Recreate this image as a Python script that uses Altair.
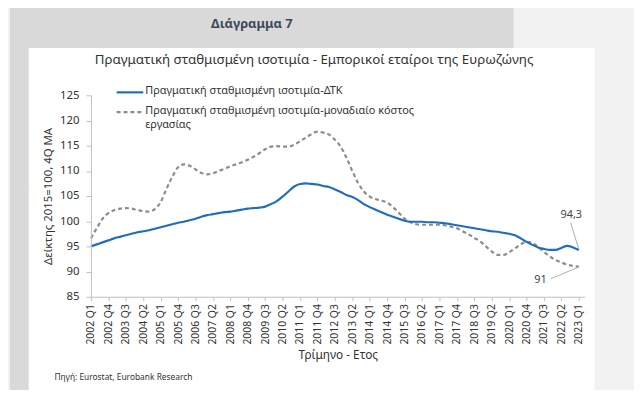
import altair as alt
import pandas as pd

# ---------------- data ----------------
tick_labels = [
    "2002 Q1", "2002 Q4", "2003 Q3", "2004 Q2", "2005 Q1", "2005 Q4", "2006 Q3",
    "2007 Q2", "2008 Q1", "2008 Q4", "2009 Q3", "2010 Q2", "2011 Q1", "2011 Q4",
    "2012 Q3", "2013 Q2", "2014 Q1", "2014 Q4", "2015 Q3", "2016 Q2", "2017 Q1",
    "2017 Q4", "2018 Q3", "2019 Q2", "2020 Q1", "2020 Q4", "2021 Q3", "2022 Q2",
    "2023 Q1",
]

# quarter index 0 = 2002 Q1 ... 84 = 2023 Q1
dtk = [
    95.0, 95.4, 95.8, 96.2, 96.6, 96.9, 97.2, 97.5, 97.8, 98.0,
    98.2, 98.5, 98.8, 99.1, 99.4, 99.7, 99.9, 100.2, 100.5, 100.9,
    101.2, 101.4, 101.6, 101.8, 101.9, 102.1, 102.3, 102.5, 102.6, 102.7,
    102.9, 103.4, 104.0, 104.9, 105.9, 106.9, 107.4, 107.5, 107.4, 107.3,
    107.0, 106.8, 106.3, 105.8, 105.2, 104.8, 104.2, 103.4, 102.8, 102.3,
    101.8, 101.3, 100.9, 100.5, 100.1, 99.9, 99.9, 99.9, 99.8, 99.8,
    99.7, 99.6, 99.4, 99.2, 99.0, 98.8, 98.6, 98.4, 98.2, 98.0,
    97.9, 97.7, 97.5, 97.2, 96.6, 95.9, 95.3, 94.8, 94.5, 94.3,
    94.3, 94.7, 95.1, 94.8, 94.3,
]

ulc = [
    96.6, 98.6, 100.5, 101.6, 102.2, 102.5, 102.6, 102.5, 102.2, 102.0,
    101.9, 102.4, 103.8, 106.4, 108.8, 110.7, 111.3, 111.0, 110.3, 109.6,
    109.3, 109.5, 110.0, 110.4, 110.9, 111.3, 111.7, 112.2, 112.8, 113.5,
    114.3, 114.8, 114.9, 114.8, 114.8, 115.2, 115.9, 116.6, 117.3, 117.8,
    117.6, 117.2, 116.2, 114.8, 112.6, 110.0, 107.6, 105.9, 104.9, 104.4,
    104.1, 103.7, 102.8, 101.7, 100.5, 99.8, 99.4, 99.3, 99.3, 99.3,
    99.3, 99.2, 98.9, 98.6, 98.0, 97.4, 96.7, 96.0, 95.0, 94.0,
    93.3, 93.3, 93.8, 94.6, 95.4, 95.9, 95.7, 94.9, 93.9, 93.0,
    92.3, 91.8, 91.4, 91.1, 91.0,
]

series_names = [
    "Πραγματική σταθμισμένη ισοτιμία-ΔΤΚ",
    "Πραγματική σταθμισμένη ισοτιμία-μοναδιαίο κόστος",
    "εργασίας",
]

end_labels = ["94,3", "91"]
end_label_x = [82.7, 77.4]
end_label_y = [101.3, 88.3]
leader_x = [82.6, 79.2]
leader_y = [99.7, 88.6]
leader_x2 = [84.0, 84.0]
leader_y2 = [94.4, 90.9]

# ---------------- tables ----------------
idx = list(range(len(dtk)))
df_dtk = pd.DataFrame({"i": idx, "v": dtk})
df_ulc = pd.DataFrame({"i": idx, "v": ulc})
df_lab = pd.DataFrame({"i": end_label_x, "v": end_label_y, "t": end_labels})
df_lead = pd.DataFrame({"i": leader_x, "v": leader_y, "i2": leader_x2, "v2": leader_y2})

FONT = "Noto Sans"
BLUE = "#1f6dbd"
GREY = "#8c8c8c"
TXT = "#333333"

label_js = "[" + ",".join("'%s'" % s for s in tick_labels) + "][round(datum.value/3)]"

x_enc = alt.X(
    "i:Q",
    scale=alt.Scale(domain=[0, 85], nice=False, zero=False),
    axis=alt.Axis(
        values=list(range(0, 85, 3)),
        labelExpr=label_js,
        labelAngle=-90,
        labelOverlap=False,
        labelFontSize=10.5,
        labelColor=TXT,
        labelPadding=3,
        labelFont=FONT,
        tickSize=4,
        tickColor="#bfbfbf",
        domainColor="#bfbfbf",
        grid=False,
        title="Τρίμηνο - Ετος",
        titleFont=FONT,
        titleFontSize=12,
        titleFontWeight="normal",
        titleColor=TXT,
        titlePadding=6,
        zindex=1,
    ),
)
y_enc = alt.Y(
    "v:Q",
    scale=alt.Scale(domain=[85, 125], nice=False, zero=False),
    axis=alt.Axis(
        values=list(range(85, 126, 5)),
        labelOverlap=False,
        labelFontSize=11.5,
        labelColor=TXT,
        labelFont=FONT,
        labelPadding=7,
        tickSize=5,
        tickColor="#bfbfbf",
        domainColor="#bfbfbf",
        grid=False,
        title="Δείκτης 2015=100, 4Q MA",
        titleFont=FONT,
        titleFontSize=11.5,
        titleFontWeight="normal",
        titleColor=TXT,
        titlePadding=6,
        zindex=1,
    ),
)

one = alt.Data(values=[{"k": 1}])

grey_panel = alt.Chart(one).mark_rect(color="#d9d9d9").encode(
    x=alt.value(-82), x2=alt.value(428), y=alt.value(-94), y2=alt.value(304)
)
white_panel = alt.Chart(one).mark_rect(color="#ffffff").encode(
    x=alt.value(-63), x2=alt.value(510), y=alt.value(-48), y2=alt.value(300)
)
header = alt.Chart(one).mark_text(
    text="Διάγραμμα 7", font=FONT, fontSize=13, fontWeight="bold", color="#3e4a5c",
    align="center", baseline="middle"
).encode(x=alt.value(163), y=alt.value(-72))
title = alt.Chart(one).mark_text(
    text="Πραγματική σταθμισμένη ισοτιμία - Εμπορικοί εταίροι της Ευρωζώνης",
    font=FONT, fontSize=13.5, color=TXT, align="center", baseline="middle"
).encode(x=alt.value(226), y=alt.value(-36))
source = alt.Chart(one).mark_text(
    text="Πηγή: Eurostat, Eurobank Research", font=FONT, fontSize=8.5, color=TXT,
    align="left", baseline="middle"
).encode(x=alt.value(-37), y=alt.value(285))

# manual legend
leg1_line = alt.Chart(one).mark_rule(color=BLUE, strokeWidth=2.2).encode(
    x=alt.value(26), x2=alt.value(53), y=alt.value(-3)
)
leg2_line = alt.Chart(one).mark_rule(color=GREY, strokeWidth=2.2, strokeDash=[4, 3]).encode(
    x=alt.value(26), x2=alt.value(53), y=alt.value(17)
)
leg1_text = alt.Chart(one).mark_text(
    text=series_names[0], font=FONT, fontSize=11, color=TXT, align="left", baseline="middle"
).encode(x=alt.value(55), y=alt.value(-4))
leg2_text = alt.Chart(one).mark_text(
    text=series_names[1], font=FONT, fontSize=11, color=TXT, align="left", baseline="middle"
).encode(x=alt.value(55), y=alt.value(16))
leg3_text = alt.Chart(one).mark_text(
    text=series_names[2], font=FONT, fontSize=11, color=TXT, align="left", baseline="middle"
).encode(x=alt.value(55), y=alt.value(30))

line_ulc = alt.Chart(df_ulc).mark_line(
    color=GREY, strokeWidth=2.2, strokeDash=[4, 3], interpolate="monotone"
).encode(x=x_enc, y=y_enc)
line_dtk = alt.Chart(df_dtk).mark_line(
    color=BLUE, strokeWidth=2.2, interpolate="monotone"
).encode(x=x_enc, y=y_enc)

leaders = alt.Chart(df_lead).mark_rule(color="#9a9a9a", strokeWidth=0.8).encode(
    x=x_enc, y=y_enc, x2="i2:Q", y2="v2:Q"
)
labels = alt.Chart(df_lab).mark_text(
    font=FONT, fontSize=11, color="#444444", align="center", baseline="middle"
).encode(x=x_enc, y=y_enc, text="t:N")

chart = alt.layer(
    grey_panel, white_panel, header, title, source,
    leg1_line, leg2_line, leg1_text, leg2_text, leg3_text,
    line_ulc, line_dtk, leaders, labels,
).properties(
    width=500,
    height=204,
    autosize=alt.AutoSizeParams(type="none"),
    padding={"left": 84, "top": 86, "right": 50, "bottom": 92},
).configure(
    background="#f2f2f2"
).configure_axis(
    labelOverlap=False
).configure_view(
    strokeWidth=0
)

chart.save("out.html", embed_options={"renderer": "svg", "actions": False})
